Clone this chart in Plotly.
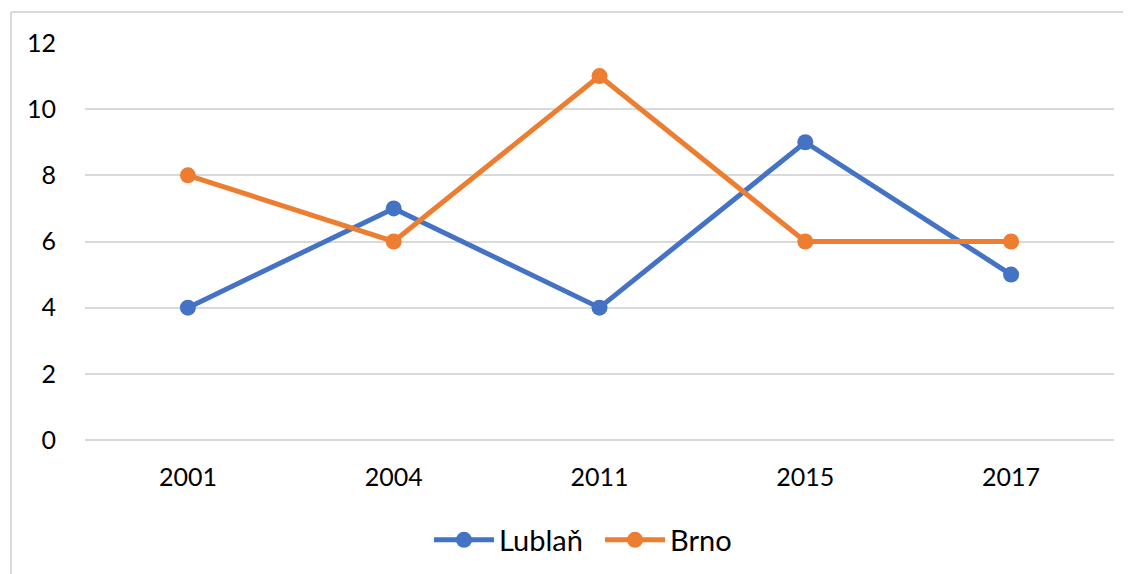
import plotly.graph_objects as go

years = ["2001", "2004", "2011", "2015", "2017"]
lublan = [4, 7, 4, 9, 5]
brno = [8, 6, 11, 6, 6]
y_ticks = [0, 2, 4, 6, 8, 10, 12]

OFF = 8  # page body margin
W, H = 1131 - OFF, 574 - OFF
L, T = 85 - OFF, 43 - OFF
R = W - (1114 - OFF)
B = H - (440 - OFF)
pw, ph = W - L - R, H - T - B

def px_x(p):
    return (p - OFF - L) / pw

def px_y(p):
    return (H - B - (p - OFF)) / ph

fig = go.Figure()
fig.add_trace(go.Scatter(x=years, y=lublan, name="Lublaň", mode="lines+markers",
                         line=dict(color="#4472C4", width=5),
                         marker=dict(size=16, color="#4472C4")))
fig.add_trace(go.Scatter(x=years, y=brno, name="Brno", mode="lines+markers",
                         line=dict(color="#ED7D31", width=5),
                         marker=dict(size=16, color="#ED7D31")))

fig.update_layout(
    width=W, height=H,
    margin=dict(l=L, r=R, t=T, b=B, autoexpand=False),
    paper_bgcolor="white", plot_bgcolor="white",
    font=dict(family="Lato, Liberation Sans, sans-serif", size=25, color="#000000"),
    showlegend=True,
    legend=dict(orientation="h", x=px_x(429), xanchor="left", y=px_y(540), yanchor="middle",
                font=dict(size=29), itemwidth=60, traceorder="normal",
                entrywidth=96, entrywidthmode="pixels"),
    xaxis=dict(type="category", showgrid=False, zeroline=False, showline=False,
               ticks="outside", ticklen=0, ticklabelstandoff=15,
               range=[-0.5, len(years) - 0.5]),
    yaxis=dict(range=[0, 12], tickvals=y_ticks, showgrid=True, gridcolor="#d9d9d9",
               gridwidth=2, zeroline=True, zerolinecolor="#d9d9d9", zerolinewidth=2,
               showline=False, ticks="outside", ticklen=0, ticklabelstandoff=23),
    shapes=[
        dict(type="line", xref="paper", yref="paper", x0=px_x(11), x1=px_x(11),
             y0=px_y(12), y1=px_y(580), line=dict(color="#d9d9d9", width=2)),
        dict(type="line", xref="paper", yref="paper", x0=px_x(11), x1=px_x(1140),
             y0=px_y(12), y1=px_y(12), line=dict(color="#d9d9d9", width=2)),
    ],
)

fig.write_html("out.html")
